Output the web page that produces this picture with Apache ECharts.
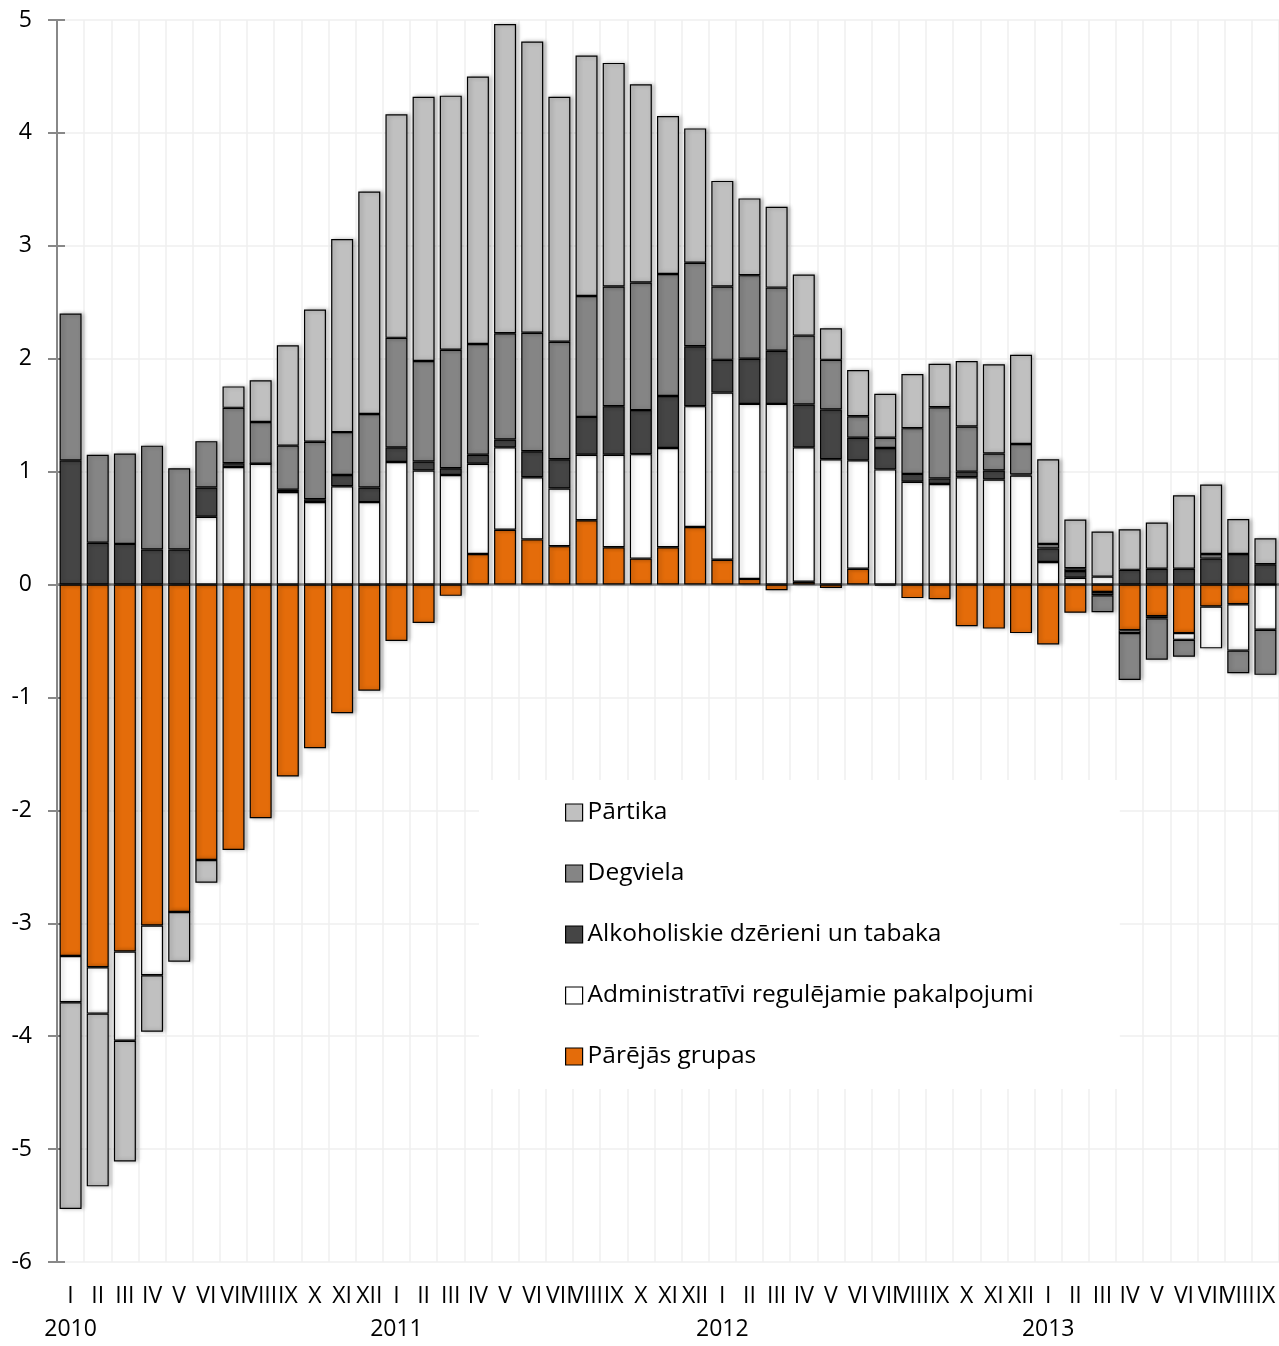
<!DOCTYPE html>
<html>
<head>
<meta charset="utf-8">
<title>Inflācijas komponentes</title>
<script src="https://cdn.jsdelivr.net/npm/echarts/dist/echarts.min.js"></script>
<style>
  html, body { margin: 0; padding: 0; background: #fff; }
  #chart { width: 1279px; height: 1346px; }
</style>
</head>
<body>
<div id="chart"></div>
<script>
// 2010. gada janvāris .. 2013. gada septembris (45 mēneši)
const years = ["2010", "2011", "2012", "2013"];
const months = ["I", "II", "III", "IV", "V", "VI", "VII", "VIII", "IX", "X", "XI", "XII"];
const monthCount = 45;

// ieguldījums, procentu punkti
const partika = [
  -1.83, -1.53, -1.07, -0.50, -0.44, -0.20, 0.19, 0.37, 0.89, 1.17, 1.71, 1.97,
  1.98, 2.34, 2.25, 2.37, 2.74, 2.58, 2.17, 2.13, 1.98, 1.755, 1.40, 1.19,
  0.935, 0.68, 0.715, 0.54, 0.28, 0.41, 0.39, 0.48, 0.385, 0.58, 0.79, 0.79,
  0.75, 0.43, 0.40, 0.36, 0.41, 0.65, 0.615, 0.31, 0.23
];
const degviela = [
  1.30, 0.78, 0.80, 0.92, 0.72, 0.41, 0.49, 0.37, 0.39, 0.51, 0.38, 0.65,
  0.97, 0.89, 1.05, 0.98, 0.94, 1.05, 1.04, 1.07, 1.06, 1.13, 1.08, 0.74,
  0.65, 0.74, 0.56, 0.61, 0.44, 0.19, 0.09, 0.405, 0.63, 0.40, 0.15, 0.27,
  0.04, 0.025, -0.15, -0.415, -0.365, -0.15, 0.04, -0.20, -0.40
];
const alkohols = [
  1.10, 0.37, 0.36, 0.31, 0.31, 0.26, 0.035, 0, 0.02, 0.025, 0.10, 0.13,
  0.13, 0.08, 0.06, 0.08, 0.07, 0.23, 0.26, 0.335, 0.43, 0.39, 0.46, 0.53,
  0.29, 0.40, 0.47, 0.38, 0.44, 0.20, 0.19, 0.07, 0.05, 0.05, 0.08, 0.01,
  0.12, 0.06, -0.03, 0.13, 0.14, 0.14, 0.23, 0.27, 0.18
];
const administrativie = [
  -0.41, -0.41, -0.79, -0.44, 0, 0.60, 1.04, 1.07, 0.82, 0.73, 0.87, 0.73,
  1.085, 1.01, 0.97, 0.80, 0.73, 0.55, 0.51, 0.58, 0.82, 0.925, 0.88, 1.07,
  1.48, 1.55, 1.60, 1.19, 1.11, 0.96, 1.02, 0.91, 0.89, 0.95, 0.93, 0.965,
  0.20, 0.06, 0.07, -0.025, -0.02, -0.06, -0.37, -0.41, -0.40
];
const parejas = [
  -3.29, -3.39, -3.25, -3.02, -2.90, -2.44, -2.35, -2.07, -1.70, -1.45, -1.14, -0.94,
  -0.50, -0.34, -0.10, 0.27, 0.485, 0.40, 0.34, 0.57, 0.33, 0.23, 0.33, 0.51,
  0.22, 0.05, -0.05, 0.025, -0.03, 0.14, -0.01, -0.12, -0.13, -0.37, -0.39, -0.43,
  -0.53, -0.25, -0.065, -0.405, -0.28, -0.43, -0.195, -0.175, 0
];

const yTicks = { min: -6, max: 5, step: 1 };

const categories = [];
years.forEach(function (y) {
  months.forEach(function (m) {
    if (categories.length < monthCount) categories.push(y + "|" + m);
  });
});

const FONT = "Open Sans";
const axisGrey = "#888888";

function barSeries(name, data, color) {
  return {
    name: name,
    type: "bar",
    stack: "total",
    barWidth: 22,
    data: data,
    itemStyle: {
      color: color,
      borderColor: "#000",
      borderWidth: 1.2,
      shadowColor: "rgba(0, 0, 0, 0.3)",
      shadowBlur: 4,
      shadowOffsetX: 2,
      shadowOffsetY: 0,
    },
  };
}

const chart = echarts.init(document.getElementById("chart"), null, { renderer: "canvas" });

const option = {
  animation: false,
  backgroundColor: "#fff",
  textStyle: { fontFamily: FONT },
  grid: { left: 57, right: 0, top: 20, bottom: 80, containLabel: false },
  legend: {
    orient: "vertical",
    left: 479,
    top: 780,
    padding: [20, 86, 20, 86],
    backgroundColor: "#fff",
    icon: "rect",
    itemWidth: 17,
    itemHeight: 17,
    itemGap: 36,
    itemStyle: { borderColor: "#000", borderWidth: 1.2, shadowBlur: 0, shadowOffsetX: 0, shadowOffsetY: 0 },
    textStyle: { fontFamily: FONT, fontSize: 24.5, color: "#000", lineHeight: 25 },
    data: [
      "Pārtika",
      "Degviela",
      "Alkoholiskie dzērieni un tabaka",
      "Administratīvi regulējamie pakalpojumi",
      "Pārējās grupas",
    ],
    z: 10,
  },
  xAxis: [
    {
      // mēnešu un gadu uzraksti apakšā
      type: "category",
      data: categories,
      position: "bottom",
      axisLine: { show: false, onZero: false },
      axisTick: { show: false },
      splitLine: { show: true, interval: 0, lineStyle: { color: "#efefef", width: 1.5 } },
      axisLabel: {
        interval: 0,
        hideOverlap: false,
        margin: 18,
        fontFamily: FONT,
        fontSize: 23,
        lineHeight: 33,
        color: "#000",
        formatter: function (value) {
          const parts = value.split("|");
          return parts[1] + "\n" + (parts[1] === "I" ? parts[0] : " ");
        },
      },
    },
    {
      // nulles līnija
      type: "category",
      data: categories,
      position: "bottom",
      axisLine: { show: true, onZero: true, lineStyle: { color: axisGrey, width: 2.5 } },
      axisTick: { show: false },
      axisLabel: { show: false },
      splitLine: { show: false },
    },
  ],
  yAxis: [
    {
      type: "value",
      position: "left",
      min: yTicks.min,
      max: yTicks.max,
      interval: yTicks.step,
      axisLine: { show: true, lineStyle: { color: axisGrey, width: 2 } },
      axisTick: { show: true, length: 9, lineStyle: { color: axisGrey, width: 2 } },
      splitLine: { show: true, lineStyle: { color: "#efefef", width: 1.5 } },
      axisLabel: { margin: 25, fontFamily: FONT, fontSize: 23, color: "#000" },
    },
    {
      // iekšējās atzīmes
      type: "value",
      position: "left",
      min: yTicks.min,
      max: yTicks.max,
      interval: yTicks.step,
      axisLine: { show: false },
      axisTick: { show: true, inside: true, length: 8, lineStyle: { color: axisGrey, width: 2 } },
      axisLabel: { show: false },
      splitLine: { show: false },
    },
  ],
  series: [
    barSeries("Pārējās grupas", parejas, "#e46c0a"),
    barSeries("Administratīvi regulējamie pakalpojumi", administrativie, "#ffffff"),
    barSeries("Alkoholiskie dzērieni un tabaka", alkohols, "#454545"),
    barSeries("Degviela", degviela, "#858585"),
    barSeries("Pārtika", partika, "#c0c0c0"),
  ],
};

chart.setOption(option);
</script>
</body>
</html>
